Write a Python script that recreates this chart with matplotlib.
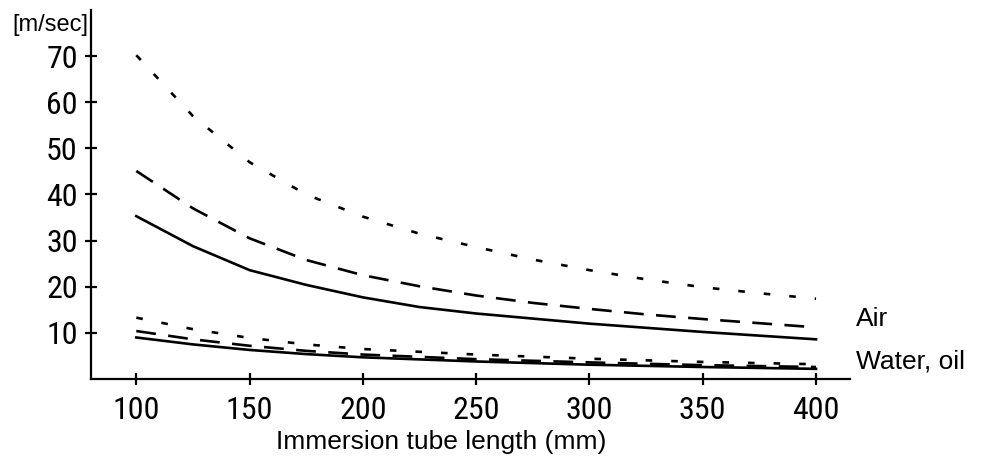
import matplotlib
matplotlib.use('Agg')
import matplotlib.pyplot as plt
from matplotlib import font_manager

# tube length (mm)
airLength = [100, 125, 150, 175, 200, 225, 250, 275, 300, 325, 350, 375, 400]
waterLength = [100, 125, 150, 175, 200, 250, 300, 350, 400]

# flow velocity limits (m/sec)
airDotted = [70.2, 57.0, 47.0, 40.0, 35.2, 31.5, 28.6, 25.9, 23.6, 21.6, 19.9, 18.6, 17.4]
airDashed = [45.1, 37.0, 30.5, 25.8, 22.5, 20.1, 18.1, 16.5, 15.2, 14.0, 13.0, 12.1, 11.2]
airSolid = [35.3, 28.8, 23.6, 20.4, 17.7, 15.6, 14.2, 13.1, 12.0, 11.1, 10.2, 9.4, 8.6]

waterDotted = [13.3, 10.8, 8.9, 7.5, 6.5, 5.3, 4.4, 3.7, 3.2]
waterDashed = [10.4, 8.6, 7.2, 6.1, 5.3, 4.3, 3.6, 3.0, 2.6]
waterSolid = [9.0, 7.5, 6.3, 5.4, 4.7, 3.8, 3.1, 2.6, 2.2]

xTicks = [100, 150, 200, 250, 300, 350, 400]
yTicks = [10, 20, 30, 40, 50, 60, 70]

dotted = (0, (2.5, 7.2))
dashed = (0, (7.5, 4.7))

# narrow font for the tick numbers if one is there
names = set(f.name for f in font_manager.fontManager.ttflist)
tickFont = [n for n in ['Liberation Sans Narrow', 'Roboto Condensed', 'DejaVu Sans Condensed']
            if n in names] + ['Roboto', 'DejaVu Sans']

fig = plt.figure(figsize=(9.89, 4.65), dpi=100)
ax = fig.add_axes([91/989, 86/465, 759/989, 369/465])

lw = 1.9
ax.plot(airLength, airDotted, color='black', lw=lw, linestyle=dotted)
ax.plot(airLength, airDashed, color='black', lw=lw, linestyle=dashed)
ax.plot(airLength, airSolid, color='black', lw=lw)
ax.plot(waterLength, waterDotted, color='black', lw=lw, linestyle=dotted)
ax.plot(waterLength, waterDashed, color='black', lw=lw, linestyle=dashed)
ax.plot(waterLength, waterSolid, color='black', lw=lw)

ax.set_xlim(80, 415)
ax.set_ylim(0, 80)

for s in ['top', 'right']:
    ax.spines[s].set_visible(False)
for s in ['left', 'bottom']:
    ax.spines[s].set_linewidth(1.6)

ax.set_xticks(xTicks)
ax.set_yticks(yTicks)
ax.set_xticklabels([str(v) for v in xTicks], family=tickFont, fontsize=23)
ax.set_yticklabels([str(v) for v in yTicks], family=tickFont, fontsize=23)
ax.tick_params(axis='both', direction='inout', length=9, width=1.6)
ax.tick_params(axis='x', pad=8)
ax.tick_params(axis='y', pad=5)

labelFont = ['Liberation Sans', 'DejaVu Sans']
ax.set_xlabel('Immersion tube length (mm)', family=labelFont, fontsize=19, va='top')
ax.xaxis.set_label_coords(0.461, -0.138)

ax.text(-0.004, 0.958, '[m/sec]', transform=ax.transAxes, ha='right', va='center',
        family=labelFont, fontsize=17)
ax.text(417.6, 11.5, 'Air', ha='left', va='baseline', family=labelFont,
        fontsize=19, clip_on=False)
ax.text(417.6, 2.2, 'Water, oil', ha='left', va='baseline', family=labelFont,
        fontsize=19, clip_on=False)

fig.savefig('out.png', dpi=100)
